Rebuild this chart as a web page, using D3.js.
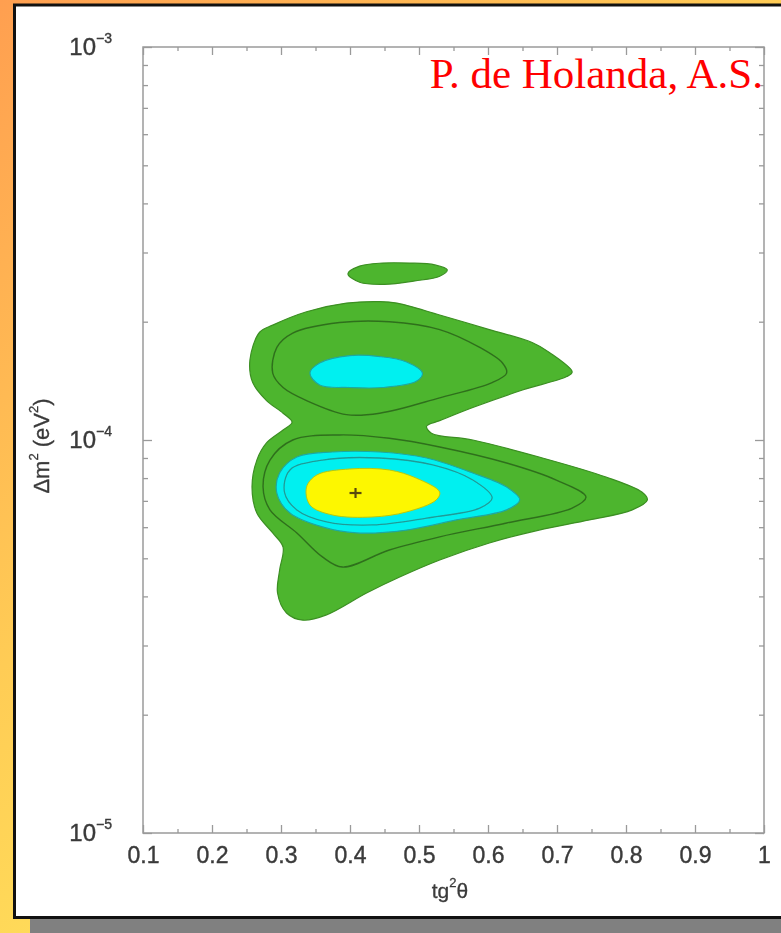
<!DOCTYPE html>
<html>
<head>
<meta charset="utf-8">
<script src="https://cdn.jsdelivr.net/npm/d3@7"></script>
<style>
  html, body { margin: 0; padding: 0; background: #fff; }
  svg { display: block; }
</style>
</head>
<body>
<svg id="chart" width="781" height="933"></svg>
<script>
// ---------- data (tg²θ, Δm² in eV²) ----------
const xTickValues = [0.1, 0.2, 0.3, 0.4, 0.5, 0.6, 0.7, 0.8, 0.9, 1.0];
const xTickLabels = ["0.1", "0.2", "0.3", "0.4", "0.5", "0.6", "0.7", "0.8", "0.9", "1"];
const xMinorTicks = [0.15, 0.25, 0.35, 0.45, 0.55, 0.65, 0.75, 0.85, 0.95];
const yTickValues = [1e-5, 1e-4, 1e-3];
const yTickExponents = ["\u22125", "\u22124", "\u22123"];
const yMinorTicks = [2e-5, 3e-5, 4e-5, 5e-5, 6e-5, 7e-5, 8e-5, 9e-5,
                     2e-4, 3e-4, 4e-4, 5e-4, 6e-4, 7e-4, 8e-4, 9e-4];

// outermost allowed region (green), both lobes joined
const regionOuter = [
  [0.255, 1.60e-4], [0.269, 1.88e-4], [0.288, 1.96e-4], [0.337, 2.12e-4], [0.395, 2.23e-4],
  [0.443, 2.25e-4], [0.468, 2.23e-4], [0.530, 2.08e-4], [0.602, 1.91e-4], [0.664, 1.77e-4],
  [0.689, 1.67e-4], [0.722, 1.49e-4], [0.714, 1.45e-4], [0.650, 1.34e-4], [0.578, 1.21e-4],
  [0.530, 1.12e-4], [0.511, 1.085e-4], [0.518, 1.04e-4], [0.578, 1.00e-4], [0.674, 9.05e-5],
  [0.771, 8.05e-5], [0.823, 7.37e-5], [0.831, 7.04e-5], [0.809, 6.64e-5], [0.747, 6.26e-5],
  [0.674, 5.90e-5], [0.602, 5.47e-5], [0.530, 4.95e-5], [0.472, 4.48e-5], [0.424, 4.08e-5],
  [0.366, 3.59e-5], [0.332, 3.48e-5], [0.308, 3.63e-5], [0.295, 4.08e-5], [0.298, 4.67e-5],
  [0.303, 5.34e-5], [0.288, 5.80e-5], [0.265, 6.52e-5], [0.258, 7.59e-5], [0.265, 8.89e-5],
  [0.279, 9.83e-5], [0.303, 1.06e-4], [0.316, 1.11e-4], [0.303, 1.17e-4], [0.279, 1.26e-4],
  [0.259, 1.40e-4]
];
// small green island on top
const regionIsland = [
  [0.397, 2.65e-4], [0.414, 2.77e-4], [0.447, 2.82e-4], [0.486, 2.82e-4], [0.523, 2.79e-4],
  [0.541, 2.71e-4], [0.530, 2.61e-4], [0.494, 2.54e-4], [0.450, 2.49e-4], [0.414, 2.52e-4]
];
// dark contour lines inside the green
const lineUpper = [
  [0.288, 1.48e-4], [0.294, 1.72e-4], [0.317, 1.87e-4], [0.385, 1.99e-4], [0.457, 2.00e-4],
  [0.530, 1.91e-4], [0.588, 1.72e-4], [0.621, 1.57e-4], [0.627, 1.48e-4], [0.606, 1.40e-4],
  [0.530, 1.28e-4], [0.443, 1.17e-4], [0.395, 1.16e-4], [0.337, 1.26e-4], [0.303, 1.36e-4]
];
const lineLower = [
  [0.317, 1.00e-4], [0.385, 1.03e-4], [0.457, 1.01e-4], [0.530, 9.60e-5], [0.627, 8.74e-5],
  [0.699, 7.91e-5], [0.742, 7.16e-5], [0.722, 6.71e-5], [0.627, 6.15e-5], [0.530, 5.67e-5],
  [0.457, 5.25e-5], [0.389, 4.75e-5], [0.360, 5.04e-5], [0.323, 5.80e-5], [0.284, 6.64e-5],
  [0.274, 7.59e-5], [0.284, 8.89e-5]
];
// cyan regions
const cyanUpper = [
  [0.342, 1.48e-4], [0.356, 1.57e-4], [0.400, 1.64e-4], [0.443, 1.63e-4], [0.482, 1.58e-4],
  [0.505, 1.48e-4], [0.496, 1.41e-4], [0.447, 1.36e-4], [0.400, 1.36e-4], [0.356, 1.38e-4]
];
const cyanLower = [
  [0.298, 8.24e-5], [0.323, 9.05e-5], [0.375, 9.32e-5], [0.443, 9.32e-5], [0.511, 9.00e-5],
  [0.578, 8.24e-5], [0.627, 7.59e-5], [0.646, 7.04e-5], [0.627, 6.64e-5], [0.554, 6.26e-5],
  [0.482, 5.90e-5], [0.410, 5.80e-5], [0.360, 6.01e-5], [0.313, 6.52e-5], [0.294, 7.33e-5]
];
const cyanInnerLine = [
  [0.313, 8.39e-5], [0.360, 8.89e-5], [0.443, 9.00e-5], [0.520, 8.64e-5], [0.578, 7.91e-5],
  [0.606, 7.12e-5], [0.588, 6.71e-5], [0.511, 6.33e-5], [0.433, 6.08e-5], [0.366, 6.19e-5],
  [0.323, 6.64e-5], [0.305, 7.37e-5]
];
// yellow core
const yellowCore = [
  [0.337, 7.59e-5], [0.352, 8.15e-5], [0.400, 8.44e-5], [0.457, 8.39e-5], [0.496, 8.00e-5],
  [0.530, 7.37e-5], [0.525, 7.04e-5], [0.482, 6.56e-5], [0.433, 6.37e-5], [0.375, 6.44e-5],
  [0.342, 6.83e-5]
];
const bestFit = [0.408, 7.33e-5];

// ---------- layout ----------
const W = 781, H = 933;
const svg = d3.select("#chart");
const defs = svg.append("defs");

const grad = defs.append("linearGradient").attr("id", "bg")
  .attr("gradientUnits", "userSpaceOnUse")
  .attr("x1", 0).attr("y1", 0).attr("x2", 600).attr("y2", 700);
grad.append("stop").attr("offset", 0).attr("stop-color", "#ff9f50");
grad.append("stop").attr("offset", 0.55).attr("stop-color", "#ffcc55");
grad.append("stop").attr("offset", 1).attr("stop-color", "#ffe65c");

defs.append("filter").attr("id", "soft")
  .append("feGaussianBlur").attr("stdDeviation", 0.5);
defs.append("filter").attr("id", "softText")
  .append("feGaussianBlur").attr("stdDeviation", 0.4);

svg.append("rect").attr("width", W).attr("height", H).attr("fill", "url(#bg)");
svg.append("rect").attr("x", 30).attr("y", 918.5).attr("width", W - 30).attr("height", H - 918.5)
  .attr("fill", "#808080");
svg.append("rect").attr("x", 14.5).attr("y", 5).attr("width", W + 20).attr("height", 912.5)
  .attr("fill", "#ffffff").attr("stroke", "#111").attr("stroke-width", 3);

const x = d3.scaleLinear().domain([0.1, 1.0]).range([143, 764]);
const y = d3.scaleLog().domain([1e-5, 1e-3]).range([833, 47]);

const g = svg.append("g");

// ---------- contours ----------
const path = d3.line()
  .x(d => x(d[0])).y(d => y(d[1]))
  .curve(d3.curveCatmullRomClosed.alpha(0.5));

const cg = g.append("g").attr("filter", "url(#soft)");
cg.append("path").attr("d", path(regionOuter))
  .attr("fill", "#4db52e").attr("stroke", "#3c8f24").attr("stroke-width", 1.2);
cg.append("path").attr("d", path(regionIsland))
  .attr("fill", "#4db52e").attr("stroke", "#3c8f24").attr("stroke-width", 1.2);
cg.append("path").attr("d", path(lineUpper))
  .attr("fill", "none").attr("stroke", "#2f6f1d").attr("stroke-width", 1.4);
cg.append("path").attr("d", path(lineLower))
  .attr("fill", "none").attr("stroke", "#2f6f1d").attr("stroke-width", 1.4);
cg.append("path").attr("d", path(cyanUpper))
  .attr("fill", "#05f0f0").attr("stroke", "#1fa8a0").attr("stroke-width", 1.2);
cg.append("path").attr("d", path(cyanLower))
  .attr("fill", "#05f0f0").attr("stroke", "#1fa8a0").attr("stroke-width", 1.2);
cg.append("path").attr("d", path(cyanInnerLine))
  .attr("fill", "none").attr("stroke", "#1f9c98").attr("stroke-width", 1.3);
cg.append("path").attr("d", path(yellowCore))
  .attr("fill", "#fdf700").attr("stroke", "#b8c810").attr("stroke-width", 1);

// best-fit marker
const bx = x(bestFit[0]), by = y(bestFit[1]);
const bf = g.append("g").attr("filter", "url(#soft)").attr("stroke", "#5a4a10").attr("stroke-width", 2.2);
bf.append("line").attr("x1", bx - 6).attr("x2", bx + 6).attr("y1", by).attr("y2", by);
bf.append("line").attr("x1", bx).attr("x2", bx).attr("y1", by - 5).attr("y2", by + 5);

// ---------- axes ----------
const axisColor = "#9a9a9a";
function styleAxis(sel) {
  sel.select(".domain").remove();
  sel.selectAll(".tick line").attr("stroke", axisColor).attr("stroke-width", 1.3);
}
// frame
g.append("rect").attr("x", x(0.1)).attr("y", y(1e-3))
  .attr("width", x(1) - x(0.1)).attr("height", y(1e-5) - y(1e-3))
  .attr("fill", "none").attr("stroke", axisColor).attr("stroke-width", 1.5);

const fontSans = "'Liberation Sans', Arial, Helvetica, sans-serif";
const labelFill = "#3a3a3a";

// bottom major with labels
const xb = g.append("g").attr("transform", `translate(0,${y(1e-5)})`)
  .call(d3.axisBottom(x).tickValues(xTickValues)
    .tickFormat((d, i) => xTickLabels[i])
    .tickSizeInner(-8).tickSizeOuter(0).tickPadding(14));
styleAxis(xb);
xb.selectAll(".tick text").attr("font-family", fontSans).attr("font-size", 23)
  .attr("fill", labelFill).attr("stroke", labelFill).attr("stroke-width", 0.4)
  .attr("filter", "url(#softText)");
// bottom minor
styleAxis(g.append("g").attr("transform", `translate(0,${y(1e-5)})`)
  .call(d3.axisBottom(x).tickValues(xMinorTicks).tickFormat("").tickSizeInner(-4).tickSizeOuter(0)));
// top
styleAxis(g.append("g").attr("transform", `translate(0,${y(1e-3)})`)
  .call(d3.axisTop(x).tickValues(xTickValues).tickFormat("").tickSizeInner(-8).tickSizeOuter(0)));
styleAxis(g.append("g").attr("transform", `translate(0,${y(1e-3)})`)
  .call(d3.axisTop(x).tickValues(xMinorTicks).tickFormat("").tickSizeInner(-4).tickSizeOuter(0)));
// left
styleAxis(g.append("g").attr("transform", `translate(${x(0.1)},0)`)
  .call(d3.axisLeft(y).tickValues(yTickValues).tickFormat("").tickSizeInner(-9).tickSizeOuter(0)));
styleAxis(g.append("g").attr("transform", `translate(${x(0.1)},0)`)
  .call(d3.axisLeft(y).tickValues(yMinorTicks).tickFormat("").tickSizeInner(-5).tickSizeOuter(0)));
// right
styleAxis(g.append("g").attr("transform", `translate(${x(1)},0)`)
  .call(d3.axisRight(y).tickValues(yTickValues).tickFormat("").tickSizeInner(-9).tickSizeOuter(0)));
styleAxis(g.append("g").attr("transform", `translate(${x(1)},0)`)
  .call(d3.axisRight(y).tickValues(yMinorTicks).tickFormat("").tickSizeInner(-5).tickSizeOuter(0)));

// y tick labels 10^n
yTickValues.forEach((v, i) => {
  const t = g.append("text").attr("x", x(0.1) - 31).attr("y", y(v) + 8)
    .attr("text-anchor", "end").attr("font-family", fontSans).attr("fill", labelFill)
    .attr("stroke", labelFill).attr("stroke-width", 0.4).attr("filter", "url(#softText)");
  t.append("tspan").attr("font-size", 24).text("10");
  t.append("tspan").attr("font-size", 14).attr("dy", -12).text(yTickExponents[i]);
});

// axis titles
const xt = g.append("text").attr("x", 450).attr("y", 898)
  .attr("text-anchor", "middle").attr("font-family", fontSans).attr("fill", labelFill)
  .attr("stroke", labelFill).attr("stroke-width", 0.3).attr("filter", "url(#softText)");
xt.append("tspan").attr("font-size", 21).text("tg");
xt.append("tspan").attr("font-size", 13).attr("dy", -11).text("2");
xt.append("tspan").attr("font-size", 21).attr("dy", 11).text("\u03B8");

const yt = g.append("text").attr("transform", `translate(49,446) rotate(-90)`)
  .attr("text-anchor", "middle").attr("font-family", fontSans).attr("fill", labelFill)
  .attr("stroke", labelFill).attr("stroke-width", 0.3).attr("filter", "url(#softText)");
yt.append("tspan").attr("font-size", 22).text("\u0394m");
yt.append("tspan").attr("font-size", 13).attr("dy", -11).text("2");
yt.append("tspan").attr("font-size", 22).attr("dy", 11).text(" (eV");
yt.append("tspan").attr("font-size", 13).attr("dy", -11).text("2");
yt.append("tspan").attr("font-size", 22).attr("dy", 11).text(")");

// author label
g.append("text").attr("x", 763).attr("y", 88).attr("text-anchor", "end")
  .attr("font-family", "'Liberation Serif', 'Times New Roman', serif")
  .attr("font-size", 43).attr("fill", "#ff0000").text("P. de Holanda, A.S.");
</script>
</body>
</html>
